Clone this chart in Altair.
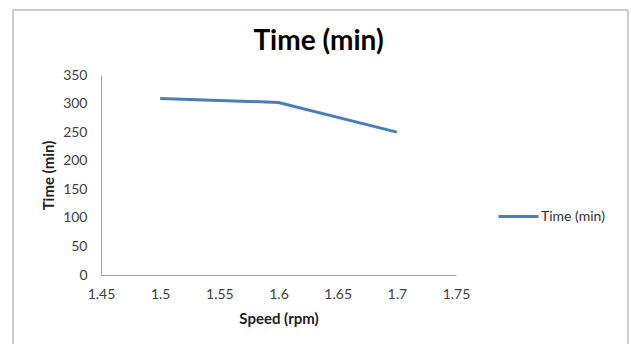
import altair as alt
import pandas as pd

speed = [1.5, 1.6, 1.7]
time_min = [309, 302, 250]
series = ["Time (min)"] * 3
x_ticks = [1.45, 1.5, 1.55, 1.6, 1.65, 1.7, 1.75]
y_ticks = [0, 50, 100, 150, 200, 250, 300, 350]

df = pd.DataFrame({"speed": speed, "time": time_min, "series": series})

FONT = "Lato"

border = alt.Chart(pd.DataFrame({"a": [0]})).mark_rect(
    fillOpacity=0, stroke="#9a9a9a", strokeWidth=1
).encode(
    x=alt.value(-88), x2=alt.value(527), y=alt.value(-65), y2=alt.value(285)
)

line = alt.Chart(df).mark_line(strokeWidth=3).encode(
    x=alt.X("speed:Q",
            scale=alt.Scale(domain=[1.45, 1.75], nice=False, zero=False),
            axis=alt.Axis(values=x_ticks, format=".3~g", title="Speed (rpm)",
                          grid=False, ticks=False, domainColor="#a0a0a0",
                          labelPadding=12, titlePadding=10, labelFlush=False,
                          labelFont=FONT, labelFontSize=14, labelColor="#404040",
                          titleFont=FONT, titleFontSize=15, titleFontWeight="bold",
                          titleColor="#202020")),
    y=alt.Y("time:Q",
            scale=alt.Scale(domain=[0, 350], nice=False),
            axis=alt.Axis(values=y_ticks, title="Time (min)",
                          grid=False, ticks=False, domainColor="#a0a0a0",
                          labelPadding=14, titlePadding=6, labelFlush=False,
                          labelFont=FONT, labelFontSize=14, labelColor="#404040",
                          titleFont=FONT, titleFontSize=15, titleFontWeight="bold",
                          titleColor="#202020")),
    color=alt.Color("series:N",
                    scale=alt.Scale(range=["#4A7EBB"]),
                    legend=alt.Legend(title=None, orient="none", legendX=396, legendY=120,
                                      symbolType="stroke", symbolStrokeWidth=3,
                                      symbolSize=1600, labelFont=FONT, labelFontSize=14,
                                      labelColor="#303030", labelOffset=1)),
)

chart = alt.layer(border, line).properties(
    width=355, height=200,
    title=alt.TitleParams("Time (min)", font=FONT, fontSize=28, fontWeight="bold",
                          color="#000000", anchor="middle", frame="group",
                          offset=0, dy=46, dx=40),
    autosize=alt.AutoSizeParams(type="none"),
    padding={"left": 101, "top": 75, "right": 175, "bottom": 69},
).configure_view(stroke=None)

chart.save("out.html", embed_options={"renderer": "svg", "actions": False})
